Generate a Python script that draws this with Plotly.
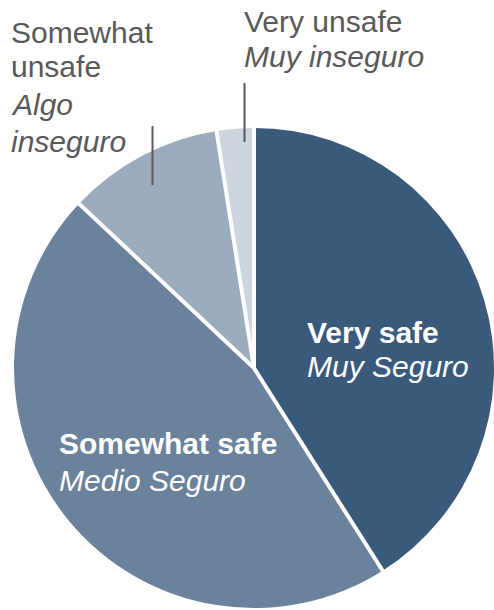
import numpy as np
import plotly.graph_objects as go

# Survey answers, in clockwise order from 12 o'clock
categories = ["Very safe", "Somewhat safe", "Somewhat unsafe", "Very unsafe"]
spanish = ["Muy Seguro", "Medio Seguro", "Algo inseguro", "Muy inseguro"]
shares = [41.0, 46.0, 10.5, 2.5]
colors = ["#3a5a7c", "#6a829b", "#9bacbd", "#cdd5df"]

W, H = 494, 610
# pie placed in pixel space: domain -> centre and radius
dom_x = [14 / W, 1.0]
dom_y = [0.0, 484 / H]
R = min((dom_x[1] - dom_x[0]) * W, (dom_y[1] - dom_y[0]) * H) / 2
CX = (dom_x[0] + dom_x[1]) / 2 * W
CY = H - (dom_y[0] + dom_y[1]) / 2 * H


def px(x):
    return x / W


def py(y):
    return 1 - y / H


fig = go.Figure(
    go.Pie(
        labels=categories,
        values=shares,
        sort=False,
        direction="clockwise",
        rotation=0,
        marker=dict(colors=colors, line=dict(width=0)),
        textinfo="none",
        hoverinfo="label+percent",
        showlegend=False,
        domain=dict(x=dom_x, y=dom_y),
    )
)

# white separators along every slice boundary
bounds = np.cumsum([0] + shares) / sum(shares) * 360
shapes = []
for ang in bounds[:-1]:
    t = np.deg2rad(ang)
    shapes.append(dict(
        type="line", xref="paper", yref="paper",
        x0=px(CX), y0=py(CY),
        x1=px(CX + (R + 4) * np.sin(t)), y1=py(CY - (R + 4) * np.cos(t)),
        line=dict(color="white", width=4),
    ))

# leader lines for the two small slices
GREY = "#595959"
for x, y0, y1 in [(244.5, 83, 142), (152.5, 126, 185)]:
    shapes.append(dict(
        type="line", xref="paper", yref="paper",
        x0=px(x), y0=py(y0), x1=px(x), y1=py(y1),
        line=dict(color=GREY, width=2),
    ))

FONT = "Liberation Sans"
SIZE = 30


def line_text(text, x, baseline, color, bold=False, italic=False):
    t = text
    if bold:
        t = "<b>" + t + "</b>"
    if italic:
        t = "<i>" + t + "</i>"
    return dict(
        text=t, xref="paper", yref="paper",
        x=px(x - 3), y=py(baseline - 10),
        xanchor="left", yanchor="middle", showarrow=False,
        font=dict(family=FONT, size=SIZE, color=color),
    )


annotations = [
    line_text("Somewhat", 12, 42, GREY),
    line_text("unsafe", 12, 77, GREY),
    line_text("Algo", 12, 115, GREY, italic=True),
    line_text("inseguro", 12, 151, GREY, italic=True),
    line_text(categories[3], 245, 32, GREY),
    line_text(spanish[3], 245, 67, GREY, italic=True),
    line_text(categories[0], 308, 342, "white", bold=True),
    line_text(spanish[0], 308, 376, "white", italic=True),
    line_text(categories[1], 60, 453, "white", bold=True),
    line_text(spanish[1], 60, 490, "white", italic=True),
]

fig.update_layout(
    width=W, height=H,
    margin=dict(l=0, r=0, t=0, b=0),
    paper_bgcolor="white",
    plot_bgcolor="white",
    shapes=shapes,
    annotations=annotations,
)

fig.write_html("out.html")
